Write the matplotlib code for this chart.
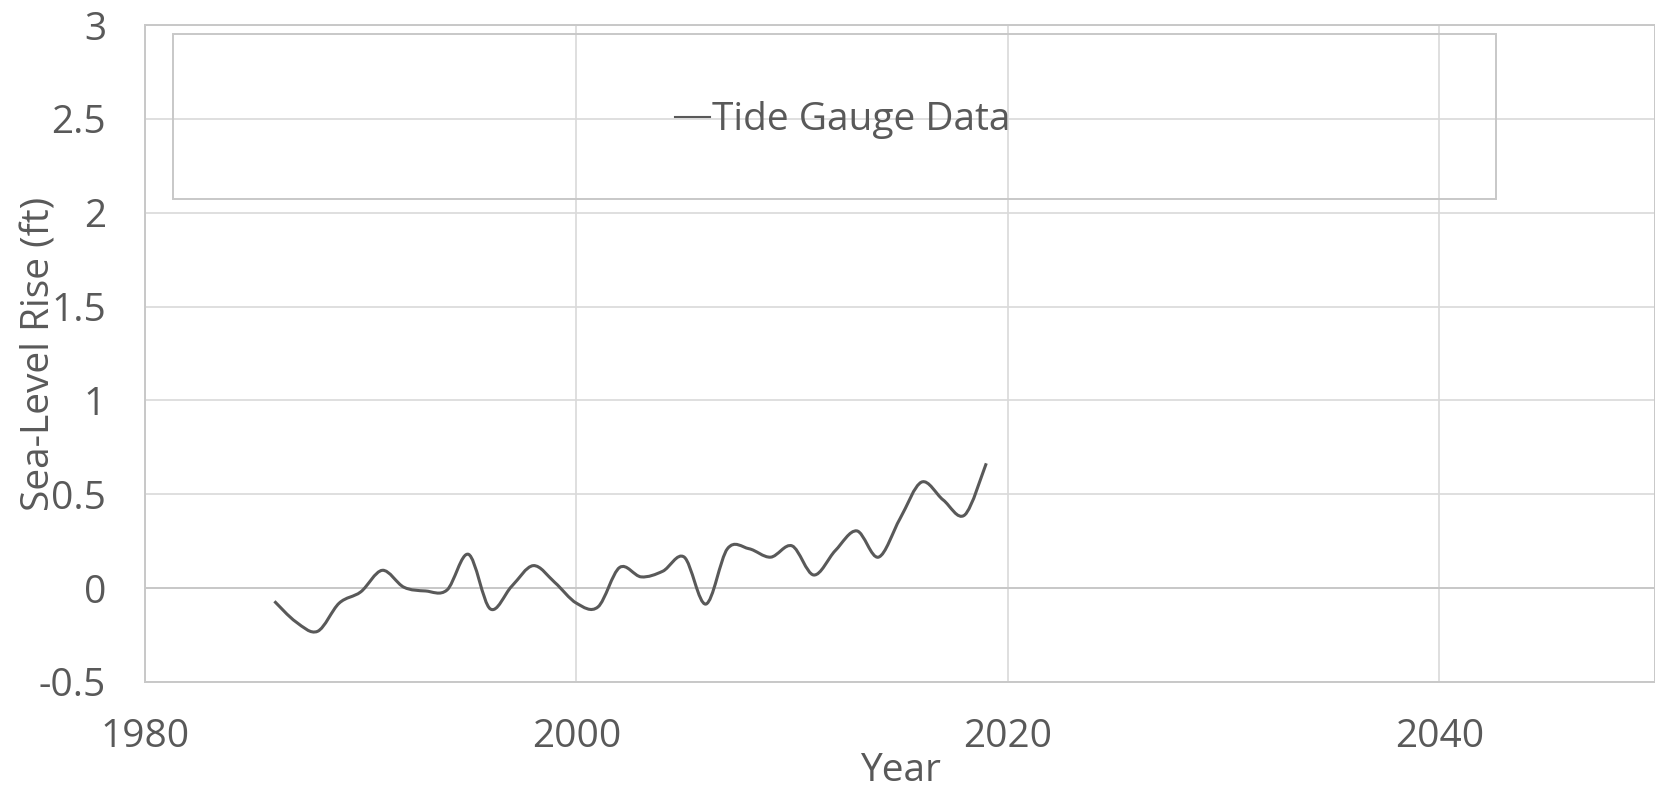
import numpy as np
import matplotlib
matplotlib.use('Agg')
import matplotlib.pyplot as plt
from matplotlib.path import Path
from matplotlib.patches import PathPatch, Rectangle
from matplotlib.lines import Line2D

# ---- data ----
years = list(range(1986, 2020))
sea_level_ft = [-0.07, -0.18, -0.23, -0.08, -0.02, 0.095, 0.005, -0.015, -0.01, 0.18,
                -0.11, 0.01, 0.12, 0.03, -0.08, -0.10, 0.11, 0.06, 0.09, 0.165,
                -0.085, 0.21, 0.21, 0.165, 0.225, 0.07, 0.20, 0.305, 0.165, 0.37,
                0.565, 0.47, 0.39, 0.665]
x_ticks = [1980, 2000, 2020, 2040]
y_ticks = [-0.5, 0, 0.5, 1, 1.5, 2, 2.5, 3]
y_tick_labels = ['-0.5', '0', '0.5', '1', '1.5', '2', '2.5', '3']
series_label = 'Tide Gauge Data'
x_label = 'Year'
y_label = 'Sea-Level Rise (ft)'

plt.rcParams['font.family'] = ['Open Sans', 'DejaVu Sans']
TXT = '#595959'
LINE = '#595959'
GRID = '#d9d9d9'
FRAME = '#c8c8c8'
FS = 28


def smooth_path(x, y):
    pts = np.column_stack([x, y]).astype(float)
    verts = [pts[0]]
    codes = [Path.MOVETO]
    n = len(pts)
    for i in range(n - 1):
        p0 = pts[i - 1] if i > 0 else pts[i]
        p1 = pts[i]
        p2 = pts[i + 1]
        p3 = pts[i + 2] if i + 2 < n else pts[i + 1]
        c1 = p1 + (p2 - p0) / 6.0
        c2 = p2 - (p3 - p1) / 6.0
        verts += [c1, c2, p2]
        codes += [Path.CURVE4] * 3
    return Path(verts, codes)


W, H = 1656, 791
fig = plt.figure(figsize=(W / 100, H / 100), dpi=100)
ax = fig.add_axes([145 / W, 1 - 682 / H, 1510 / W, 657 / H])

ax.set_xlim(1980, 2050)
ax.set_ylim(-0.5, 3)
ax.set_xticks(x_ticks)
ax.set_yticks(y_ticks)
ax.set_yticklabels(y_tick_labels)
ax.grid(True, color=GRID, lw=1.2, zorder=0)
ax.set_axisbelow(True)
ax.axhline(0, color=FRAME, lw=1.4, zorder=1)
for s in ax.spines.values():
    s.set_color(FRAME)
    s.set_linewidth(1.4)

ax.tick_params(axis='both', length=0, labelsize=FS, labelcolor=TXT)
ax.tick_params(axis='y', pad=28)
ax.tick_params(axis='x', pad=26)

patch = PathPatch(smooth_path(years, sea_level_ft), fill=False, ec=LINE, lw=2.2,
                  capstyle='butt', joinstyle='round', zorder=4)
ax.add_patch(patch)

ax.set_xlabel(x_label, fontsize=FS, color=TXT)
ax.xaxis.label.set_va('baseline')
ax.xaxis.set_label_coords(0.5, (682 - 781) / 657)
ax.set_ylabel(y_label, fontsize=FS, color=TXT)
ax.yaxis.set_label_coords((40 - 145) / 1510, 0.5)
ax.yaxis.label.set_va('center')

box = Rectangle((0.0185, 0.735), 0.8765, 0.251, transform=ax.transAxes,
                fill=False, ec=FRAME, lw=1.4, zorder=5)
ax.add_patch(box)
handle = Line2D([], [], color=LINE, lw=1.5)
ax.legend(handles=[handle], labels=[series_label], loc='center',
          bbox_to_anchor=(0.462, 0.855), frameon=False, fontsize=FS,
          handlelength=0.9, handletextpad=0.05, labelcolor=TXT)

fig.savefig('out.png', dpi=100)
